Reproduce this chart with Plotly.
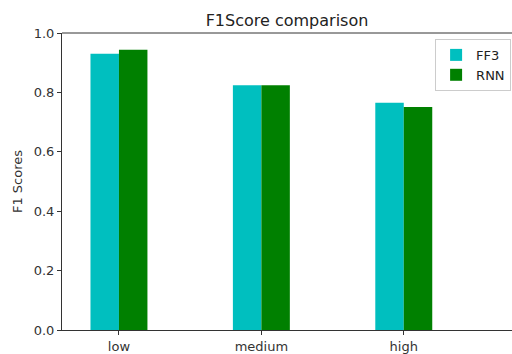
import plotly.graph_objects as go

categories = ["low", "medium", "high"]
ff3_scores = [0.930, 0.824, 0.765]
rnn_scores = [0.944, 0.824, 0.751]
y_ticks = [0.0, 0.2, 0.4, 0.6, 0.8, 1.0]

pos = list(range(len(categories)))
width = 0.2

fig = go.Figure()
fig.add_trace(go.Bar(x=[p - width / 2 for p in pos], y=ff3_scores, width=width,
                     name="FF3", marker=dict(color="#00bfbf", line=dict(width=0))))
fig.add_trace(go.Bar(x=[p + width / 2 for p in pos], y=rnn_scores, width=width,
                     name="RNN", marker=dict(color="#008000", line=dict(width=0))))

W, H = 512, 354
font = "DejaVu Sans, Arial, sans-serif"
fig.update_layout(
    width=W, height=H,
    margin=dict(l=62, r=0, t=33, b=24),
    plot_bgcolor="white", paper_bgcolor="white",
    font=dict(family=font, size=13, color="#333333"),
    title=dict(text="F1Score comparison", x=0.5, xanchor="center", xref="paper",
               y=1 - 20 / H, yanchor="middle", font=dict(size=16, color="#222222")),
    showlegend=True,
    barmode="overlay",
    legend=dict(x=0.998, xanchor="right", y=0.98, yanchor="top",
                bgcolor="rgba(255,255,255,0.8)", bordercolor="#cccccc", borderwidth=1,
                tracegroupgap=0, itemwidth=30,
                font=dict(size=13, color="#222222")),
    xaxis=dict(range=[-0.4, 2.76], tickmode="array", tickvals=pos, ticktext=categories,
               showgrid=False, zeroline=False, showline=True, linecolor="#333333", linewidth=1,
               ticks="outside", ticklen=4, tickcolor="#333333"),
    yaxis=dict(range=[0, 1.0], tickmode="array", tickvals=y_ticks,
               ticktext=[f"{v:.1f}" for v in y_ticks],
               showgrid=False, zeroline=False, showline=True, linecolor="#333333", linewidth=1,
               ticks="outside", ticklen=4, tickcolor="#333333",
               title=dict(text="F1 Scores", standoff=8, font=dict(size=13, color="#333333"))),
)
fig.add_shape(type="line", xref="paper", yref="paper", x0=0, x1=1, y0=1, y1=1,
              line=dict(color="#333333", width=1))

# remove the default 8px page margin so the 512x354 figure fills the window exactly
fig.write_html("out.html",
               config={"displayModeBar": False},
               post_script="document.body.style.margin='0';document.body.style.overflow='hidden';")
